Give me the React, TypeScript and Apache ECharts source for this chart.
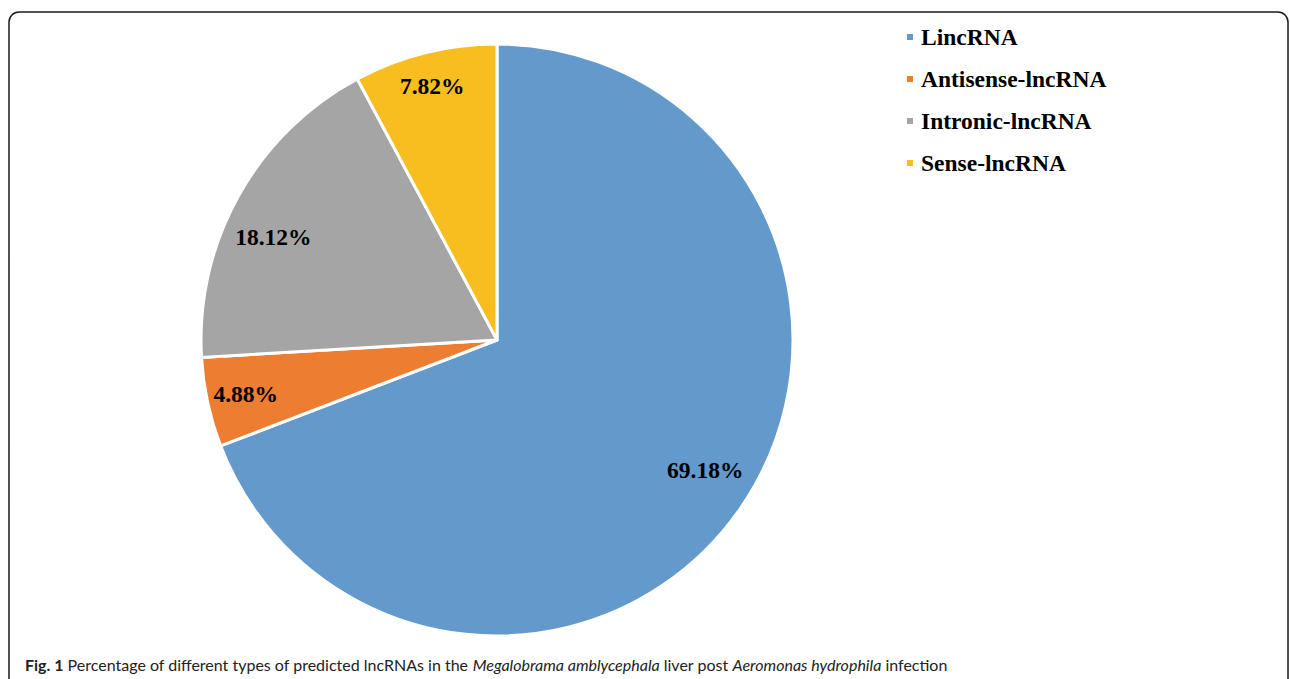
import React, { useEffect, useRef } from "react";
import * as echarts from "echarts";

const categories = ["LincRNA", "Antisense-lncRNA", "Intronic-lncRNA", "Sense-lncRNA"];
const percents = [69.18, 4.88, 18.12, 7.82];
const colors = ["#6399CB", "#ED7D31", "#A5A5A5", "#F8BD1E"];
// small per-label nudges (pixels) to mimic the original label placement
const labelNudges: [number, number][] = [
  [-1, -14],
  [-3, 0],
  [-2, 21],
  [-3, -8],
];

const W = 1290;
const H = 679;

export default function App() {
  const ref = useRef<HTMLDivElement>(null);
  useEffect(() => {
    if (!ref.current) return;
    const chart = echarts.init(ref.current, null, { renderer: "svg", width: W, height: H });
    const data = categories.map((name, i) => ({
      name,
      value: percents[i],
      itemStyle: { color: colors[i] },
    }));
    const serif = "'Liberation Serif', 'Times New Roman', serif";
    const sans = "Lato, 'Open Sans', sans-serif";
    chart.setOption({
      animation: false,
      backgroundColor: "#ffffff",
      legend: {
        orient: "vertical",
        left: 900,
        top: 20,
        itemWidth: 8,
        itemHeight: 8,
        itemGap: 18,
        icon: "rect",
        data: categories,
        textStyle: {
          fontFamily: serif,
          fontWeight: "bold",
          fontSize: 23.5,
          color: "#000",
          padding: [0, 0, 0, 2],
        },
      },
      graphic: [
        {
          type: "rect",
          shape: { x: 9, y: 12, width: 1279, height: 720, r: 10 },
          style: { fill: "none", stroke: "#1a1a1a", lineWidth: 1.5 },
          silent: true,
        },
        {
          type: "text",
          left: 25,
          top: 656,
          style: {
            text:
              "{b|Fig. 1} Percentage of different types of predicted lncRNAs in the {i|Megalobrama amblycephala} liver post {i|Aeromonas hydrophila} infection",
            fontFamily: sans,
            fontSize: 16,
            fill: "#222",
            rich: {
              b: { fontWeight: "bold", fontSize: 16, fontFamily: sans, fill: "#222" },
              i: { fontStyle: "italic", fontSize: 16, fontFamily: sans, fill: "#222" },
            },
          },
        },
      ],
      series: [
        {
          type: "pie",
          center: [497, 340],
          radius: [0, 296],
          startAngle: 90,
          clockwise: true,
          data,
          label: { show: false },
          labelLine: { show: false },
          itemStyle: { borderColor: "#ffffff", borderWidth: 3 },
          silent: true,
        },
        {
          type: "pie",
          center: [497, 340],
          radius: [200, 302],
          startAngle: 90,
          clockwise: true,
          data: categories.map((name, i) => ({ name, value: percents[i] })),
          itemStyle: { color: "rgba(0,0,0,0)", borderWidth: 0 },
          emphasis: { disabled: true },
          label: {
            show: true,
            position: "inside",
            formatter: (p: any) => p.value.toFixed(2) + "%",
            fontFamily: serif,
            fontWeight: "bold",
            fontSize: 23.5,
            color: "#000",
          },
          labelLayout: (params: any) => {
            const n = labelNudges[params.dataIndex] || [0, 0];
            return { dx: n[0], dy: n[1] };
          },
          labelLine: { show: false },
          silent: true,
        },
      ],
    });
    return () => chart.dispose();
  }, []);
  return (
    <div
      ref={ref}
      style={{ position: "fixed", left: 0, top: 0, width: W, height: H, background: "#fff" }}
    />
  );
}
